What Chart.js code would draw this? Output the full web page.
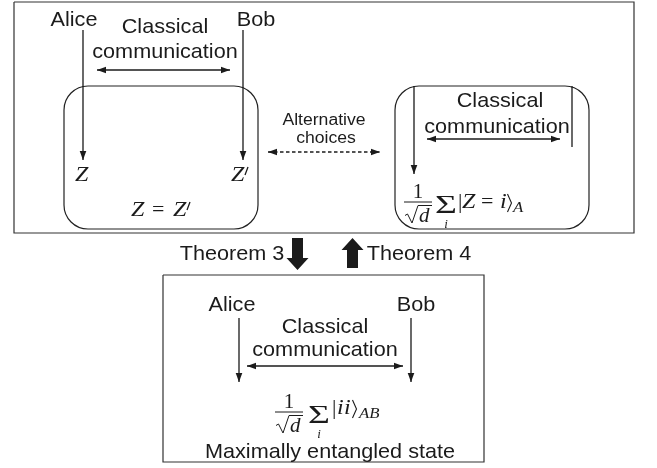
<!DOCTYPE html>
<html>
<head>
<meta charset="utf-8">
<script src="https://cdn.jsdelivr.net/npm/chart.js@4/dist/chart.umd.min.js"></script>
<style>
  html, body { margin: 0; padding: 0; background: #ffffff; }
  #wrap { width: 657px; height: 468px; }
</style>
</head>
<body>
<div id="wrap"><canvas id="c" width="657" height="468"></canvas></div>
<script>
// ---------- diagram data (coordinates in the 657 x 468 diagram space) ----------
const labelText = ['Alice', 'Classical', 'communication', 'Bob',
                   'Alternative', 'choices',
                   'Classical', 'communication',
                   'Theorem 3', 'Theorem 4',
                   'Alice', 'Classical', 'communication', 'Bob',
                   'Maximally entangled state'];
const labelX = [74, 165, 165, 256, 324, 326, 500, 497, 232, 419, 232, 325, 325, 416, 330];
const labelY = [26, 33, 58, 26, 125, 143, 107, 133, 260, 260, 311, 333, 356, 311, 458];

// plain rectangles [x1, y1, x2, y2]
const rectBoxes = [[14, 2, 634, 233], [163, 275, 484, 462]];
// rounded boxes [x1, y1, x2, y2, radius]
const roundBoxes = [[64, 86, 258, 229, 24], [395, 86, 589, 229, 24]];

// line segments; arrowheads: 0 none, 1 end, 2 both
const segX1 = [83, 243, 97, 414, 572, 427, 239, 411, 247, 268];
const segY1 = [30, 30, 70, 86, 86, 139, 318, 318, 366, 152];
const segX2 = [83, 243, 230, 414, 572, 560, 239, 411, 403, 380];
const segY2 = [160, 160, 70, 174, 147, 139, 382, 382, 366, 152];
const segHeads = [1, 1, 2, 1, 0, 2, 1, 1, 2, 2];
const segDashed = [false, false, false, false, false, false, false, false, false, true];

// thick theorem arrows: centre x, tail y, tip y
const bigArrowX = [297.5, 352.5];
const bigArrowTail = [238, 268];
const bigArrowTip = [270, 238];

// math symbols: [glyph, x-left, baseline, style]   style: i italic, r roman, s subscript, p prime, k bracket
const mathPieces = [
  ['Z', 75, 181, 'i'],
  ['Z', 231, 181, 'i'], ['′', 245, 177, 'p'],
  ['Z', 131, 216, 'i'], ['=', 152, 216, 'r'], ['Z', 173, 216, 'i'], ['′', 187, 212, 'p'],
  ['|', 458, 208, 'r'], ['Z', 462, 208, 'i'], ['=', 481, 208, 'r'], ['i', 500, 208, 'i'], ['⟩', 507, 208, 'k'], ['A', 513, 212, 's'],
  ['|', 332, 414, 'r'], ['i', 337, 414, 'i'], ['i', 344, 414, 'i'], ['⟩', 352, 414, 'k'], ['AB', 359, 418, 's']
];
// fractions 1/sqrt(d): numerator centre x, bar y, bar x1, bar x2
const fracCX = [418, 289];
const fracBarY = [202, 412];
const fracX1 = [404, 275];
const fracX2 = [432, 303];
// summation signs: centre x, baseline
const sumCX = [446, 319];
const sumBase = [213, 423];

// ---------- rendering ----------
const SANS = '"Liberation Sans", Arial, sans-serif';
const SERIF = '"Liberation Serif", "DejaVu Serif", serif';
const INK = '#1b1b1b';

const segDatasets = segX1.map((x1, i) => ({
  data: [{x: x1, y: segY1[i]}, {x: segX2[i], y: segY2[i]}],
  showLine: true,
  borderColor: INK,
  borderWidth: 1.3,
  borderDash: segDashed[i] ? [3.5, 2.5] : [],
  pointRadius: 0,
  fill: false
}));
const rectDatasets = rectBoxes.map(r => ({
  data: [{x: r[0], y: r[1]}, {x: r[2], y: r[1]}, {x: r[2], y: r[3]}, {x: r[0], y: r[3]}, {x: r[0], y: r[1]}],
  showLine: true,
  borderColor: '#333',
  borderWidth: 1.2,
  pointRadius: 0,
  fill: false
}));

function txt(ctx, s, x, y, font, align, sx) {
  ctx.save();
  ctx.font = font;
  ctx.translate(x, y);
  ctx.scale(sx || 1, 1);
  ctx.textAlign = align || 'center';
  ctx.textBaseline = 'alphabetic';
  ctx.fillText(s, 0, 0);
  ctx.restore();
}

const diagram = {
  id: 'diagram',
  beforeDatasetsDraw(chart) {
    const ctx = chart.ctx;
    const X = v => chart.scales.x.getPixelForValue(v);
    const Y = v => chart.scales.y.getPixelForValue(v);
    ctx.save();
    ctx.strokeStyle = '#222';
    ctx.lineWidth = 1.2;
    roundBoxes.forEach(b => {
      ctx.beginPath();
      ctx.roundRect(X(b[0]), Y(b[1]), X(b[2]) - X(b[0]), Y(b[3]) - Y(b[1]), b[4]);
      ctx.stroke();
    });
    ctx.restore();
  },
  afterDatasetsDraw(chart) {
    const ctx = chart.ctx;
    const X = v => chart.scales.x.getPixelForValue(v);
    const Y = v => chart.scales.y.getPixelForValue(v);
    ctx.save();
    ctx.fillStyle = INK;
    ctx.strokeStyle = INK;

    // arrowheads
    const head = (tx, ty, fx, fy, L, W) => {
      const a = Math.atan2(ty - fy, tx - fx);
      ctx.beginPath();
      ctx.moveTo(tx, ty);
      ctx.lineTo(tx - L * Math.cos(a) + W * Math.sin(a), ty - L * Math.sin(a) - W * Math.cos(a));
      ctx.lineTo(tx - L * Math.cos(a) - W * Math.sin(a), ty - L * Math.sin(a) + W * Math.cos(a));
      ctx.closePath();
      ctx.fill();
    };
    segX1.forEach((x1, i) => {
      const p1 = [X(x1), Y(segY1[i])], p2 = [X(segX2[i]), Y(segY2[i])];
      if (segHeads[i] >= 1) head(p2[0], p2[1], p1[0], p1[1], 9, 3.3);
      if (segHeads[i] === 2) head(p1[0], p1[1], p2[0], p2[1], 9, 3.3);
    });

    // thick theorem arrows
    bigArrowX.forEach((x, i) => {
      const tail = bigArrowTail[i], tip = bigArrowTip[i];
      const dir = tip > tail ? 1 : -1;
      const hb = tip - dir * 12;
      ctx.beginPath();
      ctx.moveTo(X(x - 5.5), Y(tail));
      ctx.lineTo(X(x + 5.5), Y(tail));
      ctx.lineTo(X(x + 5.5), Y(hb));
      ctx.lineTo(X(x + 11), Y(hb));
      ctx.lineTo(X(x), Y(tip));
      ctx.lineTo(X(x - 11), Y(hb));
      ctx.lineTo(X(x - 5.5), Y(hb));
      ctx.closePath();
      ctx.fill();
    });

    // sans labels
    labelText.forEach((s, i) => {
      const small = (s === 'Alternative' || s === 'choices');
      txt(ctx, s, X(labelX[i]), Y(labelY[i]), (small ? '16px ' : '21px ') + SANS, 'center', small ? 1.1 : 1.03);
    });

    // math glyphs
    mathPieces.forEach(p => {
      const [g, x, y, st] = p;
      if (st === 'k') {
        ctx.save();
        ctx.lineWidth = 1.1;
        ctx.beginPath();
        ctx.moveTo(X(x + 0.5), Y(y - 14));
        ctx.lineTo(X(x + 4.5), Y(y - 5));
        ctx.lineTo(X(x + 0.5), Y(y + 4));
        ctx.stroke();
        ctx.restore();
      } else if (st === 'p') {
        ctx.save();
        ctx.lineWidth = 1.3;
        ctx.beginPath();
        ctx.moveTo(X(x + 3), Y(y - 10));
        ctx.lineTo(X(x), Y(y - 2));
        ctx.stroke();
        ctx.restore();
      } else if (st === 'i') {
        txt(ctx, g, X(x), Y(y), 'italic 20px ' + SERIF, 'left', 1.2);
      } else if (st === 's') {
        txt(ctx, g, X(x), Y(y), 'italic 14px ' + SERIF, 'left', 1.2);
      } else {
        txt(ctx, g, X(x), Y(y), '20px ' + SERIF, 'left', 1.1);
      }
    });

    // fractions 1 / sqrt(d)
    fracCX.forEach((cx, i) => {
      const by = fracBarY[i], x1 = fracX1[i], x2 = fracX2[i];
      txt(ctx, '1', X(cx), Y(by - 4), '21px ' + SERIF, 'center', 1);
      ctx.lineWidth = 1;
      ctx.beginPath();
      ctx.moveTo(X(x1), Y(by)); ctx.lineTo(X(x2), Y(by));
      ctx.stroke();
      const top = by + 3.5, bot = by + 21;
      ctx.beginPath();
      ctx.moveTo(X(x1 + 1), Y(top + 10));
      ctx.lineTo(X(x1 + 3.5), Y(top + 8.5));
      ctx.lineTo(X(x1 + 8), Y(bot));
      ctx.lineTo(X(x1 + 14), Y(top));
      ctx.lineTo(X(x2), Y(top));
      ctx.stroke();
      txt(ctx, 'd', X(x1 + 15), Y(bot - 1), 'italic 20px ' + SERIF, 'left', 1.05);
    });

    // summation signs with index i
    sumCX.forEach((cx, i) => {
      txt(ctx, 'Σ', X(cx), Y(sumBase[i]), '26px ' + SERIF, 'center', 1.45);
      txt(ctx, 'i', X(cx), Y(sumBase[i] + 15), 'italic 13px ' + SERIF, 'center', 1);
    });

    ctx.restore();
  }
};

new Chart(document.getElementById('c'), {
  type: 'scatter',
  data: { datasets: rectDatasets.concat(segDatasets) },
  options: {
    responsive: false,
    animation: false,
    events: [],
    layout: { padding: 0 },
    scales: {
      x: { type: 'linear', min: 0, max: 657, display: false },
      y: { type: 'linear', min: 0, max: 468, reverse: true, display: false }
    },
    plugins: { legend: { display: false }, tooltip: { enabled: false } }
  },
  plugins: [diagram]
});
</script>
</body>
</html>
